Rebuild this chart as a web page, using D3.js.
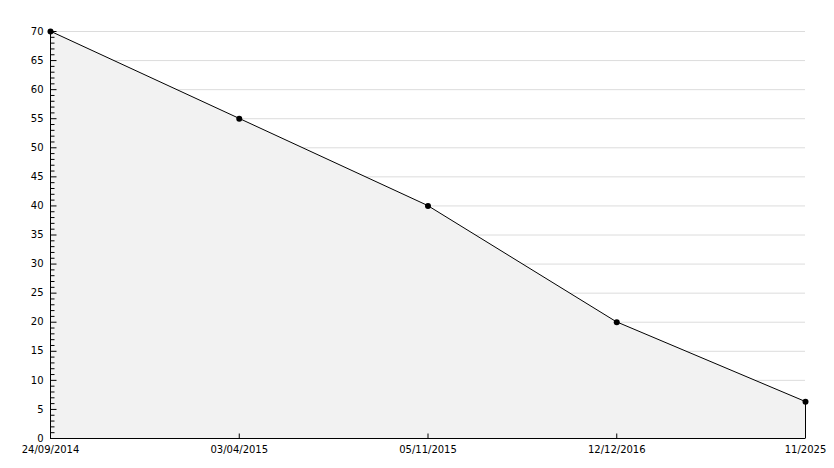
<!DOCTYPE html>
<html>
<head>
<meta charset="utf-8">
<script src="https://cdn.jsdelivr.net/npm/d3@7"></script>
<style>
  body { margin: 0; background: #fff; }
  svg { display: block; }
  text { font-family: "DejaVu Sans", sans-serif; font-size: 10px; fill: #000; }
</style>
</head>
<body>
<svg width="834" height="468"></svg>
<script>
// data
const dates = ['24/09/2014', '03/04/2015', '05/11/2015', '12/12/2016', '11/2025'];
const values = [70, 55, 40, 20, 6.3];
const yTicks = [0, 5, 10, 15, 20, 25, 30, 35, 40, 45, 50, 55, 60, 65, 70];

const svg = d3.select('svg');
const plotLeft = 50, plotRight = 805, plotTop = 31, plotBottom = 438;

const x = d3.scalePoint()
    .domain(dates)
    .range([plotLeft, plotRight]);

const y = d3.scaleLinear()
    .domain([0, 70])
    .range([plotBottom, plotTop]);

const data = dates.map((d, i) => ({ date: d, value: values[i] }));

// gridlines
svg.append('g')
  .selectAll('line')
  .data(yTicks.filter(t => t > 0))
  .join('line')
    .attr('x1', plotLeft)
    .attr('x2', plotRight)
    .attr('y1', d => y(d) + 0.5)
    .attr('y2', d => y(d) + 0.5)
    .attr('stroke', '#dcdcdc')
    .attr('stroke-width', 1);

// area
const area = d3.area()
    .x(d => x(d.date))
    .y0(y(0))
    .y1(d => y(d.value));

svg.append('path')
    .datum(data)
    .attr('d', area)
    .attr('fill', '#f2f2f2')
    .attr('stroke', 'none');

// right edge of area
svg.append('line')
    .attr('x1', x(dates[dates.length - 1]) + 0.5)
    .attr('x2', x(dates[dates.length - 1]) + 0.5)
    .attr('y1', y(values[values.length - 1]))
    .attr('y2', y(0))
    .attr('stroke', '#000');

// line
const line = d3.line()
    .x(d => x(d.date))
    .y(d => y(d.value));

svg.append('path')
    .datum(data)
    .attr('d', line)
    .attr('fill', 'none')
    .attr('stroke', '#000')
    .attr('stroke-width', 1);

// y axis, ticks pointing inwards
const yAxis = d3.axisLeft(y)
    .tickValues(d3.range(0, 71, 1))
    .tickSize(-4)
    .tickFormat(d => d % 5 === 0 ? d : '');

const gy = svg.append('g')
    .attr('transform', `translate(${plotLeft + 0.5},0)`)
    .call(yAxis);
gy.select('.domain').attr('stroke', '#000').attr('d', `M0,${plotTop}V${plotBottom}`);
gy.selectAll('.tick line')
    .attr('x2', d => d % 5 === 0 ? 6 : 4)
    .attr('stroke', '#000');
gy.selectAll('.tick text')
    .attr('x', -7)
    .style('font-family', '"DejaVu Sans", sans-serif')
    .style('font-size', '10px');

// x axis
const xAxis = d3.axisBottom(x)
    .tickSize(-5)
    .tickPadding(7);

const gx = svg.append('g')
    .attr('transform', `translate(0,${plotBottom + 0.5})`)
    .call(xAxis);
gx.select('.domain').attr('stroke', '#000').attr('d', `M${plotLeft},0H${plotRight}`);
gx.selectAll('.tick line').attr('stroke', '#000');
gx.selectAll('.tick text')
    .attr('y', 7)
    .style('font-family', '"DejaVu Sans", sans-serif')
    .style('font-size', '10px');

// markers
svg.append('g')
  .selectAll('circle')
  .data(data)
  .join('circle')
    .attr('cx', d => x(d.date) + 0.5)
    .attr('cy', d => y(d.value) + 0.5)
    .attr('r', 3)
    .attr('fill', '#000');
</script>
</body>
</html>
